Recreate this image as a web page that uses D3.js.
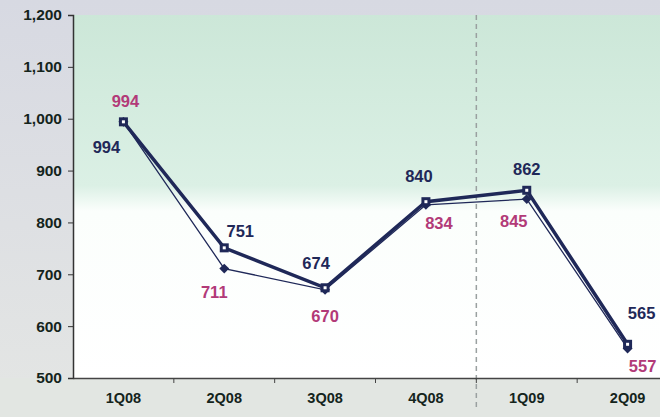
<!DOCTYPE html>
<html>
<head>
<meta charset="utf-8">
<script src="https://cdn.jsdelivr.net/npm/d3@7"></script>
<style>
  body { margin: 0; background: #dcdee5; overflow: hidden; }
  text { font-family: "Liberation Sans", Arial, sans-serif; font-weight: bold; }
</style>
</head>
<body>
<div id="chart"></div>
<script>
var quarters = ['1Q08', '2Q08', '3Q08', '4Q08', '1Q09', '2Q09'];
var mainValues = [994, 751, 674, 840, 862, 565];
var thinValues = [994, 711, 670, 834, 845, 557];
var yTicks = [500, 600, 700, 800, 900, 1000, 1100, 1200];

// label offsets from the point (layout only)
var mainOff = [[-17, 25], [16, -17], [-9, -25], [-7, -25], [0, -21], [14, -31]];
var thinOff = [[2, -21], [-10, 24], [0, 26], [13, 18], [-13, 22], [15, 18]];

var W = 660, H = 417
  , margin = { top: 15, right: -18, bottom: 39, left: 73 }
  , width = W - margin.left - margin.right
  , height = H - margin.top - margin.bottom;

var svg = d3.select('#chart').append('svg')
    .attr('width', W)
    .attr('height', H);

var defs = svg.append('defs');
var grad = defs.append('linearGradient')
    .attr('id', 'bg').attr('x1', 0).attr('y1', 0).attr('x2', 0).attr('y2', 1);
grad.append('stop').attr('offset', '0%').attr('stop-color', '#cce7d8');
grad.append('stop').attr('offset', '47%').attr('stop-color', '#dbf0e5');
grad.append('stop').attr('offset', '54%').attr('stop-color', '#fbfefc');
grad.append('stop').attr('offset', '100%').attr('stop-color', '#ffffff');

var lg = defs.append('linearGradient')
    .attr('id', 'leftbg').attr('x1', 0).attr('y1', 0).attr('x2', 0).attr('y2', 1);
lg.append('stop').attr('offset', '0%').attr('stop-color', '#d7d9e2');
lg.append('stop').attr('offset', '100%').attr('stop-color', '#e4e6e4');

svg.append('rect').attr('width', W).attr('height', H).attr('fill', 'url(#leftbg)');
svg.append('rect').attr('x', 0).attr('y', H - margin.bottom).attr('width', W).attr('height', margin.bottom)
    .attr('fill', '#e2e6e2');

var g = svg.append('g')
    .attr('transform', 'translate(' + margin.left + ',' + margin.top + ')');

g.append('rect').attr('width', width).attr('height', height).attr('fill', 'url(#bg)');

var x = d3.scaleBand().domain(quarters).range([0, width]);
var y = d3.scaleLinear().domain([500, 1200]).range([height, 0]);
var cx = function (i) { return x(quarters[i]) + x.bandwidth() / 2; };

// dashed divider between 2008 and 2009
g.append('line')
    .attr('x1', x('1Q09')).attr('x2', x('1Q09'))
    .attr('y1', 0).attr('y2', height + 30)
    .attr('stroke', '#9aa0a0').attr('stroke-width', 1.5)
    .attr('stroke-dasharray', '5,4');

// y axis
var yAx = g.append('g')
    .call(d3.axisLeft(y).tickValues(yTicks).tickFormat(d3.format(',')).tickSize(5).tickPadding(6));
yAx.select('.domain').attr('stroke', '#333').attr('stroke-width', 1.5);
yAx.selectAll('.tick line').attr('stroke', '#333');
yAx.selectAll('text').attr('fill', '#14241c').style('font-size', '15.5px');

// x axis
var xAx = g.append('g')
    .attr('transform', 'translate(0,' + height + ')')
    .call(d3.axisBottom(x).tickSize(0).tickPadding(15));
xAx.select('.domain').attr('stroke', '#444').attr('stroke-width', 1.5);
xAx.selectAll('text').attr('fill', '#14241c').style('font-size', '14.5px');
g.append('g').selectAll('line').data(quarters.slice(1)).enter().append('line')
    .attr('x1', d => x(d)).attr('x2', d => x(d))
    .attr('y1', height).attr('y2', height + 5)
    .attr('stroke', '#444');

var line = d3.line().x((d, i) => cx(i)).y(d => y(d));

g.append('path').datum(thinValues)
    .attr('d', line).attr('fill', 'none')
    .attr('stroke', '#1f2858').attr('stroke-width', 1.3);

g.append('path').datum(mainValues)
    .attr('d', line).attr('fill', 'none')
    .attr('stroke', '#1f2858').attr('stroke-width', 3.5);

g.selectAll('.dia').data(thinValues).enter().append('path')
    .attr('class', 'dia')
    .attr('transform', (d, i) => 'translate(' + cx(i) + ',' + y(d) + ') rotate(45)')
    .attr('d', 'M-3.5,-3.5H3.5V3.5H-3.5Z')
    .attr('fill', '#1f2858');

g.selectAll('.sq').data(mainValues).enter().append('rect')
    .attr('class', 'sq')
    .attr('x', (d, i) => cx(i) - 4.5).attr('y', d => y(d) - 4.5)
    .attr('width', 9).attr('height', 9)
    .attr('fill', '#1f2858');
g.selectAll('.sqi').data(mainValues).enter().append('rect')
    .attr('class', 'sqi')
    .attr('x', (d, i) => cx(i) - 1.5).attr('y', d => y(d) - 1.5)
    .attr('width', 3).attr('height', 3)
    .attr('fill', '#ffffff');

g.selectAll('.lm').data(mainValues).enter().append('text')
    .attr('x', (d, i) => cx(i) + mainOff[i][0])
    .attr('y', (d, i) => y(d) + mainOff[i][1])
    .attr('text-anchor', 'middle').attr('dy', '0.35em')
    .attr('fill', '#1f2858').style('font-size', '16.5px')
    .text(d => d);

g.selectAll('.lt').data(thinValues).enter().append('text')
    .attr('x', (d, i) => cx(i) + thinOff[i][0])
    .attr('y', (d, i) => y(d) + thinOff[i][1])
    .attr('text-anchor', 'middle').attr('dy', '0.35em')
    .attr('fill', '#b23a78').style('font-size', '16.5px')
    .text(d => d);
</script>
</body>
</html>
